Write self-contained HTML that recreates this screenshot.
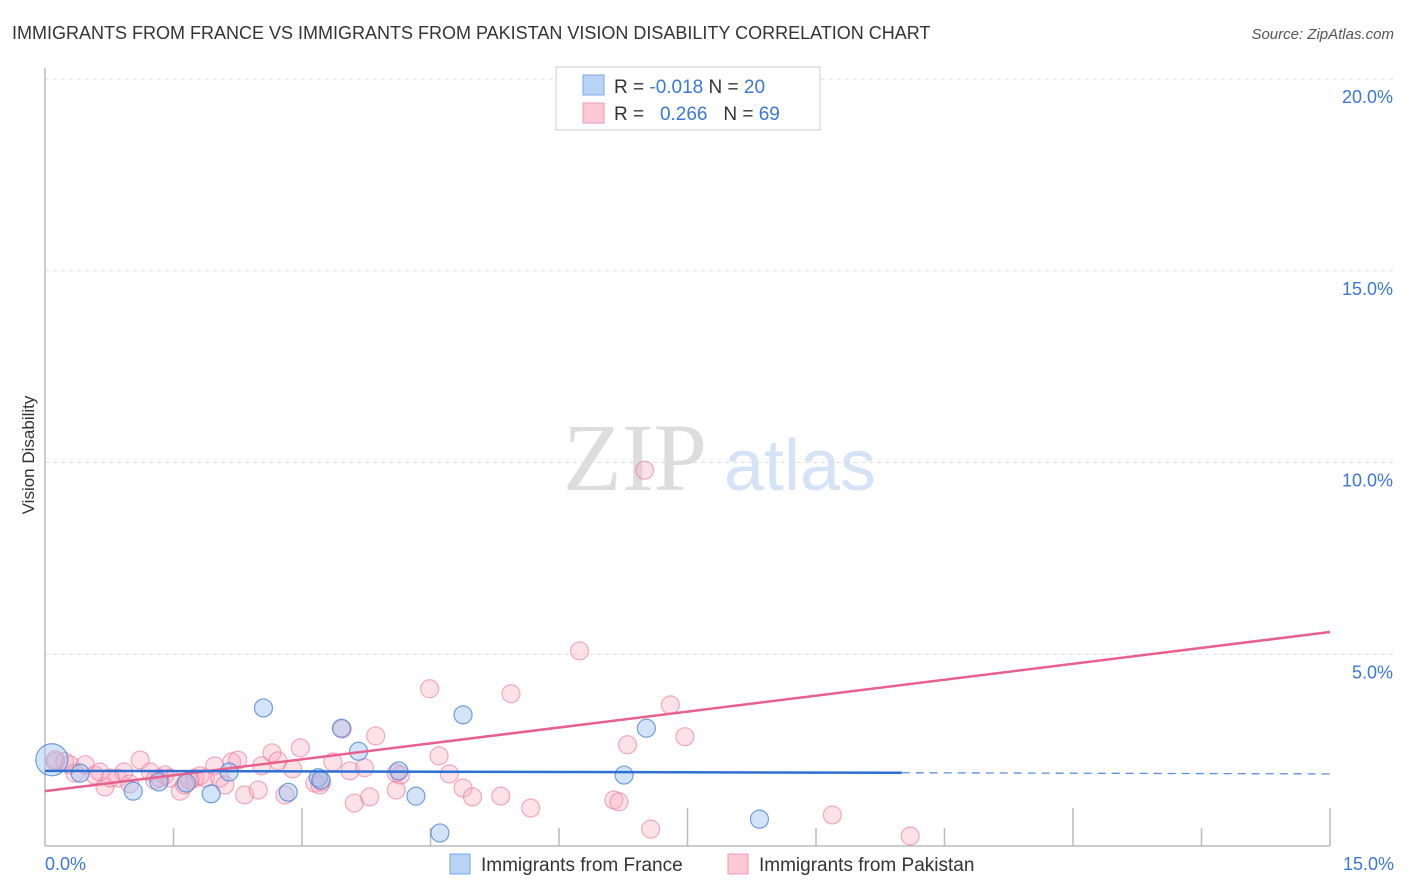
<!DOCTYPE html>
<html><head><meta charset="utf-8"><style>
body{margin:0;background:#fff;font-family:"Liberation Sans",sans-serif;}
svg{display:block}
</style></head><body>
<svg id="chart" width="1406" height="892" font-family="Liberation Sans, sans-serif">
<text x="12" y="39" font-size="18" fill="#333">IMMIGRANTS FROM FRANCE VS IMMIGRANTS FROM PAKISTAN VISION DISABILITY CORRELATION CHART</text>
<text x="1394" y="39" font-size="15" fill="#555" font-style="italic" text-anchor="end">Source: ZipAtlas.com</text>
<text transform="translate(34,455) rotate(-90)" font-size="17" fill="#333" text-anchor="middle">Vision Disability</text>
<g><text x="635" y="490" font-size="96" fill="#ddd" font-family="Liberation Serif, serif" text-anchor="middle">ZIP</text><text x="800" y="490" font-size="72" fill="#d4e3f5" text-anchor="middle">atlas</text></g>
<g id="grid"></g><g id="axes"></g><g id="marks"></g>
<g>
<rect x="556" y="67" width="264" height="63" fill="#fff" stroke="#ccc"/>
<rect x="583" y="75" width="21" height="20" fill="#b9d3f5" stroke="#7aa6e6"/>
<rect x="583" y="103" width="21" height="20" fill="#fcc9d8" stroke="#ee9ab4"/>
<text x="614" y="93" font-size="19" fill="#333">R = <tspan fill="#3b78d8">-0.018</tspan>   N = <tspan fill="#3b78d8">20</tspan></text>
<text x="614" y="120" font-size="19" fill="#333" xml:space="preserve">R =   <tspan fill="#3b78d8">0.266</tspan>   N = <tspan fill="#3b78d8">69</tspan></text>
</g>
<g>
<rect x="450" y="854" width="20" height="20" fill="#b9d3f5" stroke="#7aa6e6"/>
<text x="481" y="871" font-size="19" fill="#333">Immigrants from France</text>
<rect x="728" y="854" width="20" height="20" fill="#fcc9d8" stroke="#ee9ab4"/>
<text x="759" y="871" font-size="19" fill="#333">Immigrants from Pakistan</text>
</g>
</svg>
<script>
const yTicks=[5,10,15,20];
const yTickLabels=["5.0%","10.0%","15.0%","20.0%"];
const franceX=[0.08,0.41,1.03,1.33,1.65,1.94,2.15,2.55,2.84,3.19,3.46,3.66,4.13,4.33,4.61,4.88,6.76,7.02,8.34,3.22];
const franceY=[2.25,1.9,1.43,1.67,1.64,1.36,1.93,3.6,1.4,1.78,3.07,2.47,1.96,1.3,0.34,3.42,1.85,3.07,0.7,1.72];
const pakX=[0.12,0.23,0.29,0.47,0.58,0.64,0.7,0.85,0.92,0.99,1.11,1.23,1.28,1.4,1.46,1.58,1.63,1.75,1.81,1.87,1.98,2.04,2.18,2.25,2.33,2.49,2.53,2.65,2.72,2.89,2.98,3.15,3.23,3.36,3.47,3.56,3.61,3.73,3.79,3.86,4.1,4.1,4.49,4.6,4.72,4.88,4.99,5.32,5.44,5.67,6.24,6.64,6.7,6.8,7.07,7.3,7.47,9.19,10.1,7.0,0.12,0.35,0.76,1.34,1.69,2.1,2.8,3.21,4.15,7.6];
const pakY=[2.2,2.2,2.12,2.12,1.85,1.93,1.54,1.77,1.93,1.62,2.24,1.93,1.72,1.85,1.77,1.43,1.59,1.77,1.83,1.77,2.09,1.77,2.19,2.24,1.33,1.46,2.09,2.43,2.22,2.01,2.56,1.64,1.67,2.19,3.05,1.96,1.12,2.04,1.28,2.87,1.46,1.9,4.1,2.35,1.88,1.51,1.28,1.3,3.97,0.99,5.09,1.20,1.15,2.64,0.44,3.68,2.85,0.81,0.26,9.8,2.25,1.9,1.77,1.77,1.72,1.59,1.33,1.59,1.85,19.6];
const franceTrend=[[0,1.96],[10,1.91]], franceTrendExt=[[10,1.91],[15,1.88]];
const pakTrend=[[0,1.43],[15,5.58]];
const xTickVals=[0,1.5,3,4.5,6,7.5,9,10.5,12,13.5,15];
const NS="http://www.w3.org/2000/svg";
const X0=45,X1=1330,Y0=846,Yper=38.35;
const sx=v=>X0+(v/15)*(X1-X0);
const sy=v=>Y0-v*Yper;
function mk(tag,parent,attrs){const e=document.createElementNS(NS,tag);for(const k in attrs)e.setAttribute(k,attrs[k]);parent.appendChild(e);return e;}
const grid=document.getElementById('grid'),axes=document.getElementById('axes'),marks=document.getElementById('marks');
yTicks.forEach((t,i)=>{
 const l=mk('line',grid,{x1:X0,x2:1394,y1:sy(t),y2:sy(t),stroke:'#ddd','stroke-dasharray':'4,4'});
 
 
 const tx=mk('text',axes,{x:1393,y:sy(t)+24,'font-size':18,fill:'#3b78d8','text-anchor':'end'});
 tx.textContent=yTickLabels[i];
 
 
});
const ya=mk('line',axes,{x1:X0,x2:X0,y1:68,y2:Y0,stroke:'#bbb','stroke-width':1.5});


const xa=mk('line',axes,{x1:X0,x2:X1,y1:Y0,y2:Y0,stroke:'#bbb','stroke-width':1.5});


xTickVals.forEach((t,i)=>{if(i===0)return;
 const l=mk('line',axes,{x1:sx(t),x2:sx(t),y1:(i%3===2||i===10)?808:828,y2:Y0,stroke:'#bbb','stroke-width':1.5});
 
 
});
const xl0=mk('text',axes,{x:45,y:870,'font-size':18,fill:'#3b78d8'});xl0.textContent='0.0%';


const xl1=mk('text',axes,{x:1394,y:870,'font-size':18,fill:'#3b78d8','text-anchor':'end'});xl1.textContent='15.0%';


pakX.forEach((x,i)=>{
 const c=mk('circle',marks,{cx:sx(x),cy:sy(pakY[i]),r:9,fill:'rgba(248,168,192,0.35)',stroke:'rgba(232,120,155,0.6)','stroke-width':1.2});
 
 
});
franceX.forEach((x,i)=>{
 const c=mk('circle',marks,{cx:sx(x),cy:sy(franceY[i]),r:i===0?16:9,fill:'rgba(160,195,240,0.45)',stroke:'rgba(70,130,215,0.75)','stroke-width':1.2});
 
 
});
const pl=mk('line',marks,{x1:sx(pakTrend[0][0]),y1:sy(pakTrend[0][1]),x2:sx(pakTrend[1][0]),y2:sy(pakTrend[1][1]),stroke:'#e8608e','stroke-width':2.5});


const fl=mk('line',marks,{x1:sx(franceTrend[0][0]),y1:sy(franceTrend[0][1]),x2:sx(franceTrend[1][0]),y2:sy(franceTrend[1][1]),stroke:'#2d6fd2','stroke-width':2.5});


const fe=mk('line',marks,{x1:sx(franceTrendExt[0][0]),y1:sy(franceTrendExt[0][1]),x2:sx(franceTrendExt[1][0]),y2:sy(franceTrendExt[1][1]),stroke:'#5a8fdc','stroke-width':1.3,'stroke-dasharray':'8,6'});


</script>
</body></html>
